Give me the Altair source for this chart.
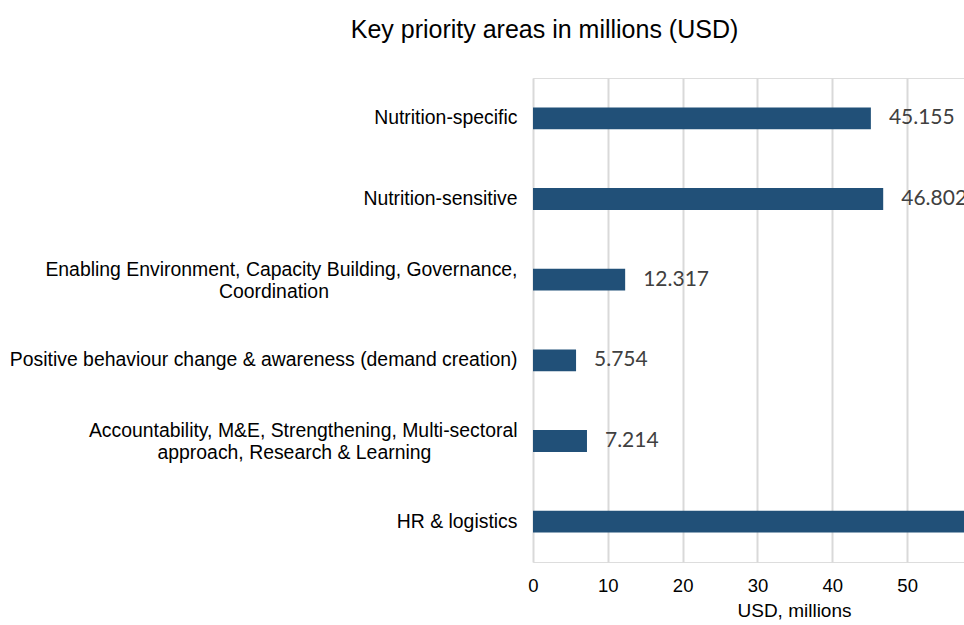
import altair as alt
import pandas as pd

NB = "\u00a0"
ZW = "\u200b"
categories = [
    "Nutrition-specific",
    "Nutrition-sensitive",
    "Enabling Environment, Capacity Building, Governance,|Coordination" + NB * 35 + ZW,
    "Positive behaviour change & awareness (demand creation)",
    "Accountability, M&E, Strengthening, Multi-sectoral|approach, Research & Learning" + NB * 16 + ZW,
    "HR & logistics",
]
values = [45.155, 46.802, 12.317, 5.754, 7.214, 63.5]
value_labels = ["45.155", "46.802", "12.317", "5.754", "7.214", "63.500"]

df = pd.DataFrame({"cat": categories, "val": values, "lab": value_labels})

y_enc = alt.Y(
    "cat:N",
    sort=categories,
    title=None,
    scale=alt.Scale(paddingInner=0.73, paddingOuter=0.365),
    axis=alt.Axis(
        labelExpr="split(datum.label, '|')",
        labelFont="Liberation Sans",
        labelFontSize=19.4,
        labelColor="#000000",
        labelLineHeight=22,
        labelPadding=16,
        labelOffset={
            "condition": {"test": "indexof(datum.value, '|') >= 0", "value": -10},
            "value": 0,
        },
        ticks=False,
        domain=False,
        labelLimit=0,
    ),
)

x_enc = alt.X(
    "val:Q",
    scale=alt.Scale(domain=[0, 57.6], nice=False),
    axis=alt.Axis(
        title="USD, millions",
        titleFont="Liberation Sans",
        titleFontSize=19,
        titleFontWeight="normal",
        titleColor="#000000",
        titleX=261,
        titleY=39,
        titleAlign="center",
        labelFont="Liberation Sans",
        labelFontSize=18.5,
        labelColor="#000000",
        labelPadding=14,
        labelFlush=False,
        values=[0, 10, 20, 30, 40, 50],
        ticks=False,
        domain=False,
        grid=True,
        gridColor="#d9d9d9",
        gridWidth=2,
    ),
)

bars = alt.Chart(df).mark_bar(color="#215078", clip=True).encode(x=x_enc, y=y_enc)

labels = (
    alt.Chart(df)
    .transform_filter("datum.val < 57.6")
    .mark_text(
        align="left", baseline="middle", dx=18, font="Lato", fontSize=21,
        color="#404040", clip=True
    )
    .encode(x=alt.X("val:Q"), y=alt.Y("cat:N", sort=categories), text="lab:N")
)

chart = (
    alt.layer(bars, labels)
    .properties(
        width=431,
        height=484,
        autosize=alt.AutoSizeParams(type="none"),
        padding={"left": 533, "top": 78, "right": 0, "bottom": 63},
        title=alt.TitleParams(
            "Key priority areas in millions (USD)",
            font="Liberation Sans",
            fontSize=25,
            fontWeight="normal",
            color="#000000",
            anchor="middle",
            dx=-204,
            offset=35,
        ),
    )
    .configure_view(stroke=None)
    .configure(background="#ffffff")
)

chart.save("out.html", embed_options={"renderer": "svg", "actions": False})
